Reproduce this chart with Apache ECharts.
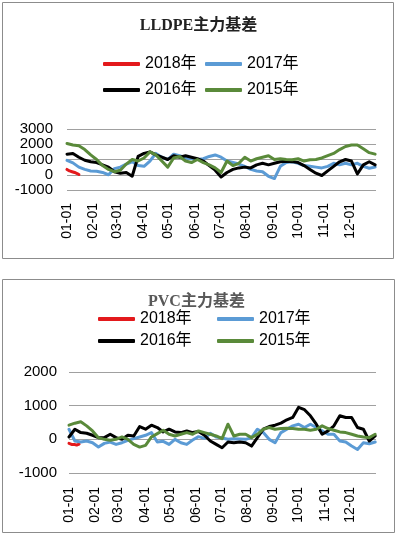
<!DOCTYPE html>
<html>
<head>
<meta charset="utf-8">
<script src="https://cdn.jsdelivr.net/npm/echarts@6/dist/echarts.min.js"></script>
<style>
  html, body { margin: 0; padding: 0; background: #fff; }
  #c { width: 397px; height: 538px; }
</style>
</head>
<body>
<div id="c"></div>
<script>
// ---------- data ----------
const monthTickDays = [0, 31, 59, 90, 120, 151, 181, 212, 243, 273, 304, 334];
const monthTickLabels = ['01-01','02-01','03-01','04-01','05-01','06-01','07-01','08-01','09-01','10-01','11-01','12-01'];
const seriesNames = ['2018年', '2017年', '2016年', '2015年'];

// sample days (weekly) shared by the full-year series
const weekDays = [];
for (let k = 0; k <= 52; k++) weekDays.push(k * 7);

// LLDPE
const lldpe2018Days = [0, 3, 6, 9, 12, 14];
const lldpe2018 = [350, 250, 200, 150, 80, 20];
const lldpe2017 = [950, 780, 500, 350, 250, 230, 150, 0, 400, 500, 700, 850, 600, 550, 900, 1400, 1150, 1000, 1350, 1250, 1100, 1050, 1000, 1050, 1200, 1300, 1150, 900, 800, 700, 550, 350, 250, 200, -100, -250, 550, 800, 850, 750, 600, 550, 500, 450, 550, 750, 650, 750, 650, 750, 550, 430, 500];
const lldpe2016 = [1350, 1400, 1150, 950, 850, 800, 650, 500, 200, 100, 150, -100, 1200, 1400, 1500, 1300, 1150, 1000, 1250, 1150, 1250, 1150, 1050, 900, 600, 300, -150, 150, 350, 450, 500, 450, 650, 750, 650, 750, 850, 880, 860, 800, 600, 350, 100, -50, 250, 550, 850, 1000, 900, 50, 650, 850, 650];
const lldpe2015 = [2050, 1950, 1900, 1650, 1300, 1000, 600, 350, 200, 300, 700, 1000, 900, 1100, 1500, 1300, 900, 500, 1100, 1200, 900, 800, 1000, 800, 650, 450, 150, 900, 600, 750, 1150, 900, 1050, 1150, 1250, 1000, 1050, 1000, 980, 1050, 900, 980, 1000, 1100, 1250, 1400, 1650, 1850, 1950, 1950, 1700, 1450, 1350];

// PVC
const pvc2018Days = [0, 3, 6, 9, 12];
const pvc2018 = [-120, -150, -150, -170, -140];
const pvc2017 = [300, -50, -80, -50, -100, -230, -120, -80, -150, -100, -30, 20, 70, 120, 200, -80, -60, -150, 0, -100, -150, -20, 80, 30, 180, 70, 40, 0, 20, 10, 0, 50, 300, 200, 0, -100, 200, 300, 400, 450, 350, 450, 350, 250, 150, 150, -50, -80, -200, -300, -100, -130, -80];
const pvc2016 = [70, 300, 200, 180, 120, 50, 50, 150, 50, 0, 120, 100, 380, 300, 420, 350, 220, 300, 220, 200, 250, 200, 230, 120, -50, -150, -250, -80, -100, -80, -100, -200, 50, 300, 380, 420, 480, 580, 650, 950, 880, 700, 450, 150, 250, 400, 700, 650, 650, 350, 300, -50, 100];
const pvc2015 = [420, 480, 520, 400, 250, 50, 0, -30, 0, 70, 0, -150, -230, -180, 70, 170, 270, 150, 100, 150, 200, 150, 250, 200, 150, 100, 20, 450, 100, 150, 150, 50, 150, 300, 350, 300, 320, 330, 320, 300, 300, 270, 300, 400, 320, 270, 220, 200, 150, 100, 70, 50, 150];

// ---------- helpers ----------
const colors = { '2018年': '#e3191c', '2017年': '#5b9bd5', '2016年': '#000000', '2015年': '#5a8a3a' };
const pair = (days, vals) => vals.map((v, i) => [days[i], v]);
const FONT = '"Liberation Sans", "Noto Sans CJK SC", sans-serif';

function mkSeries(name, days, vals, gi) {
  return {
    name: name, type: 'line', xAxisIndex: gi, yAxisIndex: gi,
    data: pair(days, vals), symbol: 'none', smooth: false,
    lineStyle: { width: 3, color: colors[name], cap: 'round', join: 'round' },
    itemStyle: { color: colors[name] },
    emphasis: { disabled: true }, animation: false
  };
}

function mkLegend(name, left, top) {
  return {
    data: [name], left: left, top: top, padding: 0,
    icon: 'roundRect', itemWidth: 37, itemHeight: 4,
    textStyle: { fontSize: 16, color: '#000', fontFamily: FONT },
    selectedMode: false
  };
}

function mkX(gi, margin) {
  return {
    type: 'value', gridIndex: gi, min: 0, max: 365,
    axisLine: { show: false }, axisTick: { show: false }, splitLine: { show: false },
    axisLabel: {
      rotate: 90, margin: margin, fontSize: 14, color: '#000', fontFamily: FONT,
      customValues: monthTickDays,
      formatter: v => monthTickLabels[monthTickDays.indexOf(v)]
    }
  };
}

function mkY(gi, min, max, margin) {
  return {
    type: 'value', gridIndex: gi, min: min, max: max, interval: 1000,
    axisLine: { show: false }, axisTick: { show: false },
    splitLine: { lineStyle: { color: '#a0a0a0', width: 1 } },
    axisLabel: { fontSize: 15, color: '#000', fontFamily: FONT, margin: margin, formatter: v => String(v) }
  };
}

const chart = echarts.init(document.getElementById('c'), null, { renderer: 'canvas' });
chart.setOption({
  animation: false,
  graphic: [
    { type: 'rect', shape: { x: 2.5, y: 2.5, width: 391, height: 256 }, style: { fill: 'none', stroke: '#8c8c8c', lineWidth: 1 }, silent: true },
    { type: 'rect', shape: { x: 2.5, y: 279.5, width: 392, height: 253 }, style: { fill: 'none', stroke: '#8c8c8c', lineWidth: 1 }, silent: true }
  ],
  title: [
    { text: 'LLDPE主力基差', left: 'center', top: 18, padding: 0,
      textStyle: { fontSize: 16, fontWeight: 'bold', color: '#222', fontFamily: '"Liberation Serif", "Noto Sans CJK SC", serif' } },
    { text: 'PVC主力基差', left: 148, top: 294, padding: 0,
      textStyle: { fontSize: 16, fontWeight: 'bold', color: '#595959', fontFamily: '"Liberation Serif", "Noto Sans CJK SC", serif' } }
  ],
  legend: [
    mkLegend('2018年', 103, 56), mkLegend('2017年', 205, 56),
    mkLegend('2016年', 103, 82), mkLegend('2015年', 205, 82),
    mkLegend('2018年', 98, 311), mkLegend('2017年', 217, 311),
    mkLegend('2016年', 98, 333), mkLegend('2015年', 217, 333)
  ],
  grid: [
    { left: 67, right: 21, top: 129, height: 61 },
    { left: 69, right: 21, top: 372, height: 101 }
  ],
  xAxis: [mkX(0, 13), mkX(1, 14)],
  yAxis: [mkY(0, -1000, 3000, 14), mkY(1, -1000, 2000, 12)],
  series: [
    mkSeries('2018年', lldpe2018Days, lldpe2018, 0),
    mkSeries('2017年', weekDays, lldpe2017, 0),
    mkSeries('2016年', weekDays, lldpe2016, 0),
    mkSeries('2015年', weekDays, lldpe2015, 0),
    mkSeries('2018年', pvc2018Days, pvc2018, 1),
    mkSeries('2017年', weekDays, pvc2017, 1),
    mkSeries('2016年', weekDays, pvc2016, 1),
    mkSeries('2015年', weekDays, pvc2015, 1)
  ]
});
</script>
</body>
</html>
